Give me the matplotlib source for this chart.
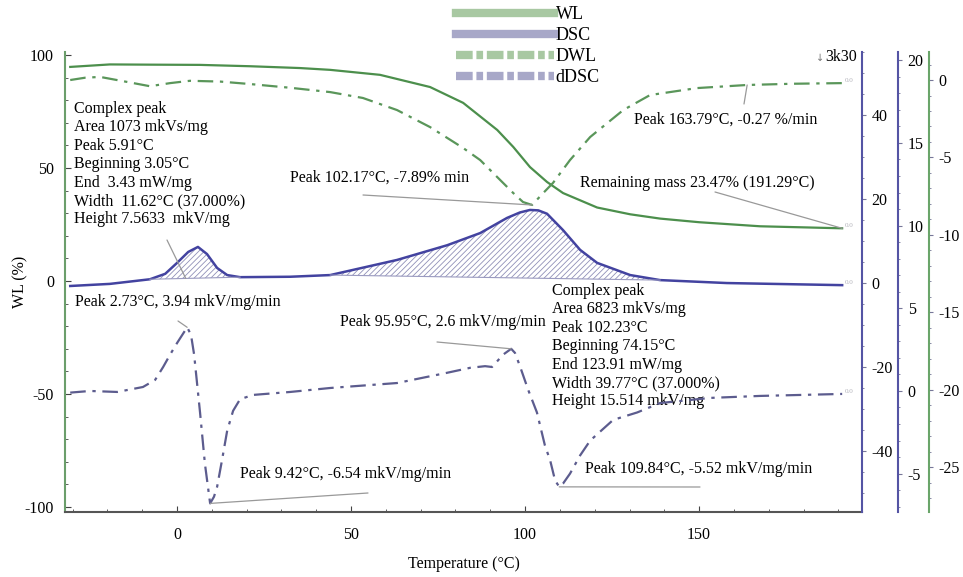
import matplotlib
matplotlib.use("Agg")
import matplotlib.pyplot as plt
import numpy as np
from matplotlib.lines import Line2D
from matplotlib.ticker import MultipleLocator

plt.rcParams["font.family"] = ["Liberation Serif", "DejaVu Sans"]
plt.rcParams["hatch.linewidth"] = 0.6
plt.rcParams["axes.unicode_minus"] = False

# --- данные ---
# WL, % (левая ось)
t_wl = [-30.7, -19.3, -7.8, 6.6, 21.0, 35.3, 44.0, 58.3, 72.7, 82.2, 92.0, 96.6,
        101.4, 106.3, 110.9, 120.7, 130.2, 138.8, 150.0, 167.5, 191.1]
wl = [94.7, 95.8, 95.7, 95.6, 95.0, 94.2, 93.4, 91.2, 85.8, 78.8, 66.8, 59.3,
      50.4, 43.8, 38.9, 32.5, 29.5, 27.6, 26.0, 24.2, 23.3]

# DWL, %/min (зелёная ось справа)
t_dwl = [-30.7, -26.4, -22.1, -14.9, -7.8, -2.0, 3.7, 12.4, 21.0, 32.5, 44.0, 53.4,
         63.2, 72.7, 82.2, 87.1, 92.0, 96.6, 99.4, 102.0, 105.2, 108.0, 112.9,
         118.7, 128.2, 135.9, 149.4, 163.8, 177.0, 191.1]
dwl = [0.0, 0.15, 0.2, -0.1, -0.4, -0.2, -0.05, -0.1, -0.26, -0.5, -0.78, -1.16,
       -1.94, -3.04, -4.39, -5.17, -6.27, -7.3, -7.88, -8.07, -7.3, -6.65, -5.17,
       -3.68, -1.94, -0.97, -0.52, -0.32, -0.24, -0.2]

# DSC, mkV/mg (внутренняя синяя ось)
t_dsc = [-30.7, -19.3, -7.8, -3.4, 0.0, 3.2, 6.0, 8.6, 11.5, 14.4, 18.1, 32.5,
         44.0, 63.2, 77.6, 87.1, 94.8, 98.5, 101.4, 103.8, 106.3, 110.9, 115.8,
         120.7, 130.2, 138.8, 158.0, 191.1]
dsc = [-0.7, -0.2, 0.9, 2.2, 4.8, 7.4, 8.6, 6.9, 3.6, 1.9, 1.4, 1.5,
       1.9, 5.5, 9.0, 11.9, 15.5, 16.8, 17.4, 17.3, 16.5, 12.6, 7.9,
       4.8, 1.9, 0.7, 0.0, -0.5]

# dDSC, mkV/mg/min (внешняя синяя ось)
t_ddsc = [-30.7, -25.0, -17.2, -9.8, -6.3, -4.0, -2.0, 0.0, 2.9, 4.0, 4.9, 6.6,
          8.0, 9.5, 10.6, 11.5, 12.9, 14.4, 16.1, 18.1, 21.8, 32.5, 44.0, 63.2,
          77.6, 84.2, 88.5, 90.5, 93.7, 96.0, 97.1, 98.6, 100.9, 103.4, 105.7,
          107.2, 108.6, 109.8, 110.9, 112.9, 115.8, 118.7, 125.3, 132.2, 138.8,
          153.2, 167.5, 191.1]
ddsc = [-0.1, 0.0, -0.06, 0.24, 0.67, 1.45, 2.2, 2.9, 3.85, 3.4, 2.2, -1.3,
        -4.4, -6.8, -6.4, -5.8, -4.2, -2.4, -1.2, -0.5, -0.24, -0.06, 0.18, 0.48,
        1.1, 1.4, 1.5, 1.45, 2.2, 2.55, 2.3, 1.45, 0.06, -1.3, -3.3,
        -4.2, -5.4, -5.8, -5.6, -5.0, -3.9, -3.0, -1.75, -1.3, -0.73,
        -0.42, -0.3, -0.18]

# границы интегрирования пиков DSC (°C)
peak1_range = (-7.8, 18.1)
peak2_range = (44.0, 138.8)

GREEN = "#4c8f4c"
GREEN_D = "#5a965a"
BLUE = "#4343a0"
BLUE_D = "#5c5c8e"

L, R, B, T = 65, 862, 512, 52
W, H = 963, 577
FS = 11.5


def frac(px, py):
    # пиксели исходника -> доли осей
    return ((px - L) / (R - L), (B - py) / (B - T))


fig = plt.figure(figsize=(W / 100, H / 100), dpi=100)
ax = fig.add_axes([L / W, 1 - B / H, (R - L) / W, (B - T) / H])
ax_dsc = ax.twinx()
ax_ddsc = ax.twinx()
ax_dwl = ax.twinx()
ax_ddsc.spines["right"].set_position(("axes", 1.045))
ax_dwl.spines["right"].set_position(("axes", 1.084))

ax.set_xlim(-32.2, 196.8)
ax.set_ylim(-102.2, 101.3)
ax_dsc.set_ylim(-54.5, 55.0)
ax_ddsc.set_ylim(-7.32, 20.5)
ax_dwl.set_ylim(-27.9, 1.81)

# кривые
ax.plot(t_wl, wl, color=GREEN, lw=1.6)
ax_dwl.plot(t_dwl, dwl, color=GREEN_D, lw=1.6, dashes=(7, 3, 1.5, 3))
ax_dsc.plot(t_dsc, dsc, color=BLUE, lw=1.8)
ax_ddsc.plot(t_ddsc, ddsc, color=BLUE_D, lw=1.6, dashes=(7, 3, 1.5, 3))

# штриховка площадей пиков DSC
td = np.array(t_dsc)
vd = np.array(dsc)
for lo, hi in (peak1_range, peak2_range):
    m = (td >= lo) & (td <= hi)
    base = np.interp(td[m], [lo, hi], [np.interp(lo, td, vd), np.interp(hi, td, vd)])
    ax_dsc.fill_between(td[m], vd[m], base, facecolor="none", edgecolor="#9090b8",
                        hatch="//////", linewidth=0)
    ax_dsc.plot([lo, hi], [base[0], base[-1]], color="#9a9ac0", lw=0.8)

# оси
ax.spines["top"].set_visible(False)
ax.spines["right"].set_visible(False)
ax.spines["left"].set_color("#6b9e6b")
ax.spines["left"].set_linewidth(1.5)
ax.spines["bottom"].set_color("#555555")
ax.spines["bottom"].set_linewidth(1.5)
for a in (ax_dsc, ax_ddsc, ax_dwl):
    for s in ("top", "left", "bottom"):
        a.spines[s].set_visible(False)
ax_dsc.spines["right"].set_color("#5454a4")
ax_ddsc.spines["right"].set_color("#5454a4")
ax_dwl.spines["right"].set_color("#6aa56a")
for a in (ax_dsc, ax_ddsc, ax_dwl):
    a.spines["right"].set_linewidth(1.5)

ax.xaxis.set_major_locator(MultipleLocator(50))
ax.xaxis.set_minor_locator(MultipleLocator(10))
ax.yaxis.set_major_locator(MultipleLocator(50))
ax.yaxis.set_minor_locator(MultipleLocator(10))
ax_dsc.yaxis.set_major_locator(MultipleLocator(20))
ax_dsc.yaxis.set_minor_locator(MultipleLocator(5))
ax_ddsc.yaxis.set_major_locator(MultipleLocator(5))
ax_ddsc.yaxis.set_minor_locator(MultipleLocator(1))
ax_dwl.yaxis.set_major_locator(MultipleLocator(5))
ax_dwl.yaxis.set_minor_locator(MultipleLocator(1))

ax.tick_params(which="both", direction="in", labelsize=FS, colors="#444444",
               labelcolor="black")
ax.tick_params(axis="x", pad=11)
ax.tick_params(axis="y", pad=8)
ax.tick_params(which="major", length=4)
ax.tick_params(which="minor", length=2.5)
for a in (ax_dsc, ax_ddsc, ax_dwl):
    a.tick_params(which="both", direction="out", labelsize=FS, pad=4, colors="#777799",
                  labelcolor="black")
    a.tick_params(which="major", length=3)
    a.tick_params(which="minor", length=1.5)

ax.set_xlabel("Temperature (°C)", fontsize=FS, labelpad=9.5)
ax.set_ylabel("WL (%)", fontsize=FS, labelpad=-3)

# подписи пиков
txt = dict(fontsize=FS, color="black", zorder=5)
line = dict(arrowstyle="-", color="#999999", lw=0.9, shrinkA=0, shrinkB=0)

block1 = ("Complex peak\nArea 1073 mkVs/mg\nPeak 5.91°C\nBeginning 3.05°C\n"
          "End  3.43 mW/mg\nWidth  11.62°C (37.000%)\nHeight 7.5633  mkV/mg")
block2 = ("Complex peak\nArea 6823 mkVs/mg\nPeak 102.23°C\nBeginning 74.15°C\n"
          "End 123.91 mW/mg\nWidth 39.77°C (37.000%)\nHeight 15.514 mkV/mg")
ax.text(*frac(74, 101), block1, transform=ax.transAxes, va="top", linespacing=1.2, **txt)
ax.text(*frac(552, 283), block2, transform=ax.transAxes, va="top", linespacing=1.2, **txt)

labels = [
    ("Peak 2.73°C, 3.94 mkV/mg/min", 75, 302),
    ("Peak 9.42°C, -6.54 mkV/mg/min", 240, 474),
    ("Peak 95.95°C, 2.6 mkV/mg/min", 340, 322),
    ("Peak 102.17°C, -7.89% min", 290, 178),
    ("Peak 109.84°C, -5.52 mkV/mg/min", 585, 469),
    ("Peak 163.79°C, -0.27 %/min", 634, 120),
    ("Remaining mass 23.47% (191.29°C)", 580, 183),
]
for s, px, py in labels:
    ax.text(*frac(px, py), s, transform=ax.transAxes, va="center", **txt)

# линии-выноски от подписей к точкам кривых
i_dd = np.array(ddsc)
tdd = np.array(t_ddsc)
first = tdd < 40
k_max1 = np.argmax(np.where(first, i_dd, -99))
k_min1 = np.argmin(np.where(first, i_dd, 99))
k_max2 = np.argmax(np.where(~first, i_dd, -99))
k_min2 = np.argmin(np.where(~first, i_dd, 99))
ax_ddsc.annotate("", xy=(tdd[k_max1], i_dd[k_max1]), xytext=frac(178, 321),
                 textcoords=ax.transAxes, arrowprops=line)
ax_ddsc.annotate("", xy=(tdd[k_min1], i_dd[k_min1]), xytext=frac(368, 493),
                 textcoords=ax.transAxes, arrowprops=line)
ax_ddsc.annotate("", xy=(tdd[k_max2], i_dd[k_max2]), xytext=frac(437, 342),
                 textcoords=ax.transAxes, arrowprops=line)
ax_ddsc.annotate("", xy=(tdd[k_min2], i_dd[k_min2]), xytext=frac(700, 487),
                 textcoords=ax.transAxes, arrowprops=line)
k = int(np.argmin(dwl))
ax_dwl.annotate("", xy=(t_dwl[k], dwl[k]), xytext=frac(363, 195),
                textcoords=ax.transAxes, arrowprops=line)
ax_dwl.annotate("", xy=(t_dwl[-3], dwl[-3]), xytext=frac(744, 104),
                textcoords=ax.transAxes, arrowprops=line)
ax.annotate("", xy=(t_wl[-1], wl[-1]), xytext=frac(715, 192),
            textcoords=ax.transAxes, arrowprops=line)
ax_dsc.annotate("", xy=(2.5, np.interp(2.5, [peak1_range[0], peak1_range[1]],
                                       [np.interp(peak1_range[0], td, vd),
                                        np.interp(peak1_range[1], td, vd)])),
                xytext=frac(167, 240), textcoords=ax.transAxes, arrowprops=line)

# метки в конце кривых и маркер 3k30
for a, tt, vv in ((ax, t_wl, wl), (ax_dwl, t_dwl, dwl), (ax_dsc, t_dsc, dsc),
                  (ax_ddsc, t_ddsc, ddsc)):
    a.text(tt[-1] + 0.8, vv[-1], "0.0", fontsize=5, color="#b0b0b8", va="bottom")
ax.text(*frac(816, 58), "↓", transform=ax.transAxes, fontsize=7, color="#777777",
        va="center", family=["DejaVu Sans"])
ax.text(*frac(825, 57), "3k30", transform=ax.transAxes, fontsize=FS, va="center")

# легенда
handles = [
    Line2D([], [], color="#a8c8a2", lw=6),
    Line2D([], [], color="#a8a8c8", lw=6),
    Line2D([], [], color="#a8c8a2", lw=6, ls=(0, (2, 0.45, 0.8, 0.45))),
    Line2D([], [], color="#a8a8c8", lw=6, ls=(0, (2, 0.45, 0.8, 0.45))),
]
fig.legend(handles, ["WL", "DSC", "DWL", "dDSC"], loc="upper left",
           bbox_to_anchor=(456 / W, 1 - 6 / H), frameon=False, fontsize=13,
           handlelength=5.4, handletextpad=0.12, labelspacing=0.22,
           borderpad=0, borderaxespad=0)

fig.savefig("out.png", dpi=100)
